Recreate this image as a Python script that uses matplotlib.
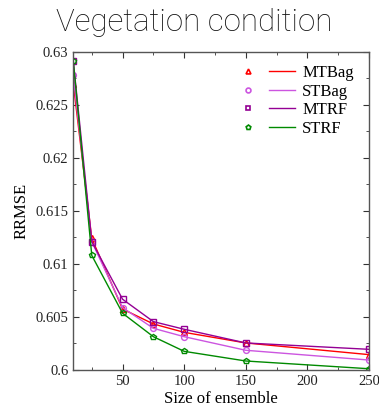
import numpy as np
import matplotlib.pyplot as plt
from matplotlib.lines import Line2D
from matplotlib.legend_handler import HandlerTuple
from matplotlib.ticker import MultipleLocator

# ensemble sizes and RRMSE for each method
sizes = [10, 25, 50, 75, 100, 150, 250]
mtbag = [0.6270, 0.6124, 0.60575, 0.60434, 0.60355, 0.60255, 0.60145]
stbag = [0.62776, 0.6121, 0.60588, 0.60393, 0.60314, 0.60186, 0.60094]
mtrf = [0.6291, 0.6121, 0.60667, 0.60456, 0.60384, 0.60255, 0.60195]
strf = [0.6291, 0.6108, 0.60535, 0.60314, 0.60176, 0.60085, 0.60012]

series = [
  ('MTBag', mtbag, '#ff0000', '^'),
  ('STBag', stbag, '#cc55e0', 'o'),
  ('MTRF', mtrf, '#940094', 's'),
  ('STRF', strf, '#008a00', 'p'),
]

serif = ['Liberation Serif', 'DejaVu Serif']

fig = plt.figure(figsize=(3.79, 4.18), dpi=100)
ax = fig.add_axes([0.1934, 0.1148, 0.7802, 0.7615])

handles = []
labels = []
for name, vals, col, mk in series:
  ax.plot(sizes, vals, '-', color=col, lw=1.0, marker=mk, ms=4.2,
          mfc='none', mec=col, mew=1.0)
  mh = Line2D([], [], ls='none', marker=mk, ms=3.5, mfc='none', mec=col, mew=1.2)
  lh = Line2D([], [], ls='-', color=col, lw=1.0)
  handles.append((mh, lh))
  labels.append(name)

ax.set_xlim(10, 250)
ax.set_ylim(0.6, 0.63)
ax.xaxis.set_major_locator(MultipleLocator(50))
ax.xaxis.set_minor_locator(MultipleLocator(25))
ax.yaxis.set_major_locator(MultipleLocator(0.005))
ax.yaxis.set_minor_locator(MultipleLocator(0.0025))
ax.set_yticks([0.6, 0.605, 0.61, 0.615, 0.62, 0.625, 0.63])
ax.set_yticklabels(['0.6', '0.605', '0.61', '0.615', '0.62', '0.625', '0.63'])
ax.set_xticks([50, 100, 150, 200, 250])
ax.tick_params(which='both', direction='in', top=True, right=True, colors='#333333')
ax.tick_params(which='major', length=4, labelsize=10.5, labelcolor='#222222')
ax.tick_params(which='minor', length=2.5)
for lab in ax.get_xticklabels() + ax.get_yticklabels():
  lab.set_family(serif)
for sp in ax.spines.values():
  sp.set_color('#555555')
  sp.set_linewidth(1.0)

ax.set_xlabel('Size of ensemble', family=serif, fontsize=12, labelpad=2)
ax.set_ylabel('RRMSE', family=serif, fontsize=12, labelpad=4)

leg = ax.legend(handles, labels, handler_map={tuple: HandlerTuple(ndivide=None, pad=0.5)},
                loc='upper right', frameon=False, prop={'family': serif, 'size': 12},
                handlelength=3.6, labelspacing=0.15, handletextpad=0.45,
                bbox_to_anchor=(1.0, 1.005))

fig.text(0.512, 0.947, 'Vegetation condition', ha='center', va='center',
         fontsize=22.5, fontweight='light', family=['Roboto', 'DejaVu Sans'], color='#111111')

fig.savefig('out.png', dpi=100)
